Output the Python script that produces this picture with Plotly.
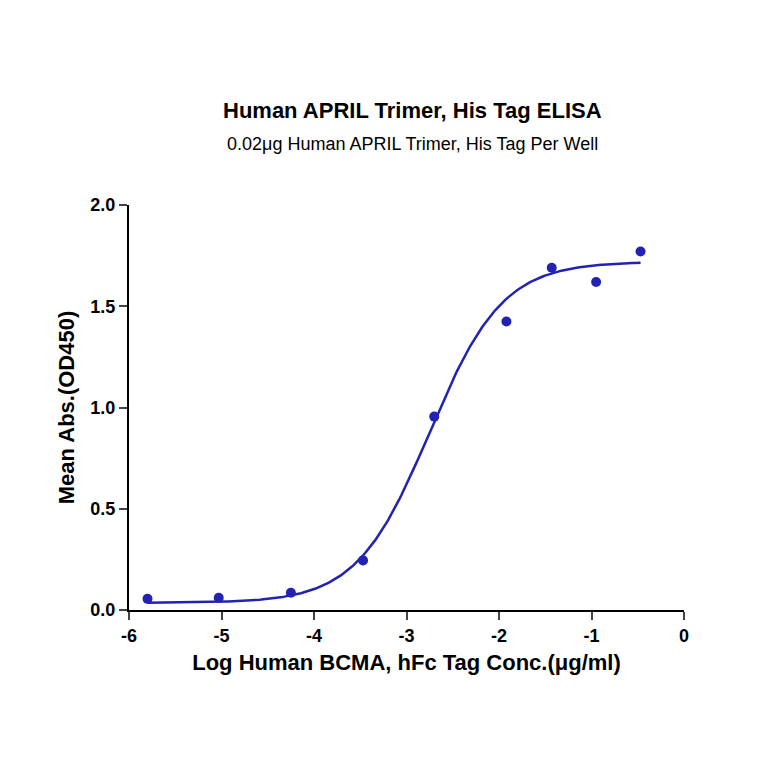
import numpy as np
import plotly.graph_objects as go

log_conc = [-5.8, -5.03, -4.25, -3.47, -2.7, -1.92, -1.43, -0.95, -0.47]
mean_abs = [0.055, 0.06, 0.085, 0.245, 0.955, 1.425, 1.69, 1.62, 1.77]
# 4PL fit parameters (estimated)
bottom, top, log_ec50, hill = 0.035, 1.72, -2.75, 1.1

xc = np.linspace(-5.8, -0.47, 300)
yc = bottom + (top - bottom) / (1 + 10 ** ((log_ec50 - xc) * hill))

col = "#2222b4"
L, R, T, B = 121, 88, 197, 162
fig = go.Figure()
fig.add_trace(go.Scatter(x=xc, y=yc, mode="lines", line=dict(color=col, width=2.5), hoverinfo="skip"))
fig.add_trace(go.Scatter(x=log_conc, y=mean_abs, mode="markers", marker=dict(color=col, size=10)))

ph = 764 - T - B
pw = 764 - L - R
fig.update_layout(
    width=764, height=764, showlegend=False,
    plot_bgcolor="white", paper_bgcolor="white",
    margin=dict(l=L, r=R, t=T, b=B),
    font=dict(family="Arial, Liberation Sans", color="black"),
    annotations=[
        dict(text="<b>Human APRIL Trimer, His Tag ELISA</b>", x=(404 - L) / pw, y=(764 - B - 88) / ph,
             xref="paper", yref="paper", showarrow=False, font=dict(size=22)),
        dict(text="0.02μg Human APRIL Trimer, His Tag Per Well", x=(404 - L) / pw, y=(764 - B - 124) / ph,
             xref="paper", yref="paper", showarrow=False, font=dict(size=18)),
    ],
)

fig.update_xaxes(range=[-6, 0], tickvals=[-6, -5, -4, -3, -2, -1, 0],
                 ticktext=["<b>-6</b>", "<b>-5</b>", "<b>-4</b>", "<b>-3</b>", "<b>-2</b>", "<b>-1</b>", "<b>0</b>"],
                 ticks="outside", ticklen=8, tickwidth=2,
                 showline=True, linecolor="black", linewidth=2, showgrid=False, zeroline=False,
                 title=dict(text="<b>Log Human BCMA, hFc Tag Conc.(μg/ml)</b>", font=dict(size=22), standoff=10),
                 tickfont=dict(size=18))
fig.update_yaxes(range=[0, 2], tickvals=[0, 0.5, 1, 1.5, 2],
                 ticktext=["<b>0.0</b>", "<b>0.5</b>", "<b>1.0</b>", "<b>1.5</b>", "<b>2.0</b>"],
                 ticks="outside", ticklen=8, tickwidth=2,
                 showline=True, linecolor="black", linewidth=2, showgrid=False, zeroline=False,
                 title=dict(text="<b>Mean Abs.(OD450)</b>", font=dict(size=22), standoff=10),
                 tickfont=dict(size=18))
fig.write_html("out.html")
